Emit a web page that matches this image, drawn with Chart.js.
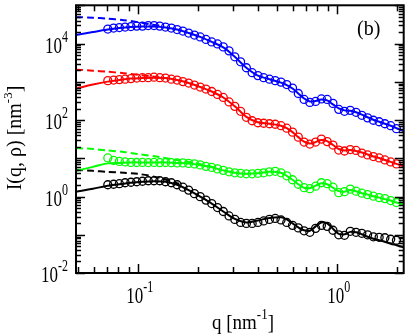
<!DOCTYPE html>
<html>
<head>
<meta charset="utf-8">
<script src="https://cdn.jsdelivr.net/npm/chart.js@4"></script>
<style>
  html, body { margin: 0; padding: 0; background: #fff; }
</style>
</head>
<body>
<canvas id="chart" width="409" height="334"></canvas>
<script>
// measured q values of the data points (nm^-1)
const qData = [0.0708, 0.0757, 0.0809, 0.0865, 0.0925, 0.0989, 0.1057, 0.1130, 0.1208, 0.1291,
  0.1380, 0.1476, 0.1578, 0.1687, 0.1803, 0.1928, 0.2061, 0.2203, 0.2355, 0.2518,
  0.2692, 0.2877, 0.3076, 0.3289, 0.3516, 0.3758, 0.4018, 0.4295, 0.4592, 0.4909,
  0.5248, 0.5610, 0.5998, 0.6412, 0.6855, 0.7328, 0.7834, 0.8375, 0.8954, 0.9572,
  1.0233, 1.0940, 1.1695, 1.2503, 1.3366, 1.4289, 1.5276, 1.6331, 1.7458, 1.8664, 1.9953];

const blueData = [23900, 25400, 26200, 27000, 27800, 28600, 28600, 29500, 29500, 28600,
  27000, 25400, 23200, 21200, 18800, 16700, 14900, 12800, 11000, 9770,
  8170, 6440, 4500, 3330, 2330, 1730, 1450, 1280, 1170, 1070,
  981, 845, 686, 494, 345, 289, 306, 356, 345, 272,
  190, 169, 179, 159, 133, 114, 98.6, 90.2, 80.0, 71.0, 59.3];
const redData = [1070, 1110, 1140, 1170, 1210, 1250, 1280, 1280, 1320, 1280,
  1250, 1170, 1110, 1010, 925, 820, 728, 646, 557, 466,
  389, 297, 228, 169, 118, 95.7, 84.9, 82.4, 80.0, 77.6,
  71.0, 61.1, 48.2, 35.7, 26.5, 23.5, 26.5, 31.7, 27.3, 22.2,
  16.4, 15.5, 16.9, 16.0, 13.7, 12.2, 11.1, 10.2, 9.04, 8.03, 7.13];
const greenData = [10.2, 8.79, 8.28, 8.03, 7.80, 7.75, 7.80, 7.72, 7.78, 7.70,
  7.75, 7.68, 7.57, 7.57, 7.35, 7.13, 6.71, 6.14, 5.78, 5.28,
  4.83, 4.43, 4.17, 4.04, 3.93, 3.93, 4.04, 4.17, 4.43, 4.56,
  4.17, 3.48, 2.74, 2.09, 1.70, 1.60, 1.86, 2.29, 2.16, 1.75,
  1.26, 1.34, 1.56, 1.38, 1.22, 1.12, 1.02, 0.935, 0.881, 0.783, 0.695];
const blackData = [2.03, 2.09, 2.16, 2.29, 2.36, 2.43, 2.51, 2.58, 2.58, 2.58,
  2.43, 2.29, 2.03, 1.75, 1.47, 1.19, 0.993, 0.805, 0.655, 0.515,
  0.406, 0.310, 0.252, 0.210, 0.198, 0.198, 0.210, 0.230, 0.252, 0.267,
  0.244, 0.210, 0.176, 0.151, 0.127, 0.116, 0.147, 0.176, 0.166, 0.131,
  0.0998, 0.0968, 0.123, 0.116, 0.109, 0.0998, 0.0885, 0.0859, 0.0834, 0.0762, 0.0718];

// fitted curves (solid)
const fitQ = [0.049, 0.0596, 0.0708, 0.0809, 0.0925, 0.1057, 0.1208, 0.1380, 0.1578, 0.1803,
  0.2061, 0.2355, 0.2692, 0.3076, 0.3516, 0.4018, 0.4592, 0.5248, 0.5610, 0.5998,
  0.6412, 0.6855, 0.7328, 0.7834, 0.8375, 0.8954, 0.9572, 1.0233, 1.0940, 1.1695,
  1.2503, 1.3366, 1.4289, 1.5276, 1.6331, 1.7458, 1.8664, 1.9953, 2.17];
const blueFit = [16700, 20000, 23200, 25400, 27000, 27800, 27800, 26200, 23200, 18800,
  14900, 11000, 7930, 4500, 2330, 1450, 1170, 953, 820, 665,
  494, 366, 306, 316, 345, 325, 256, 202, 179, 174,
  159, 139, 118, 102, 90.2, 80.0, 71.0, 61.1, 51.1];
const redFit = [665, 845, 1010, 1110, 1210, 1250, 1280, 1250, 1110, 925,
  728, 557, 389, 228, 121, 87.5, 80.0, 71.0, 61.1, 48.2,
  35.7, 27.3, 24.2, 26.5, 29.9, 28.1, 22.2, 17.5, 16.0, 16.4,
  15.5, 14.2, 12.6, 11.1, 10.2, 9.04, 8.03, 7.13, 6.14];
const greenFit = [4.69, 5.96, 7.35, 7.57, 7.80, 7.80, 7.80, 7.80, 7.57, 7.35,
  6.71, 5.78, 4.83, 4.17, 3.93, 4.04, 4.43, 4.17, 3.48, 2.74,
  2.09, 1.70, 1.65, 1.92, 2.22, 2.09, 1.70, 1.38, 1.34, 1.47,
  1.38, 1.22, 1.12, 1.02, 0.935, 0.855, 0.783, 0.695, 0.617];
const blackFit = [1.34, 1.60, 1.92, 2.09, 2.29, 2.43, 2.51, 2.43, 2.03, 1.47,
  0.993, 0.655, 0.406, 0.259, 0.210, 0.237, 0.275, 0.285, 0.252, 0.198,
  0.156, 0.131, 0.127, 0.166, 0.210, 0.198, 0.143, 0.106, 0.103, 0.119,
  0.116, 0.103, 0.0885, 0.0785, 0.0718, 0.0656, 0.0583, 0.0533, 0.0473];

// low-q model curves (dashed)
const dashQ = [0.049, 0.0596, 0.0700, 0.0852, 0.1000, 0.1285, 0.1617, 0.2038, 0.2416];
const blueDash = [49000, 47500, 44800, 40900, 36300, 29000, null, null, null];
const redDash = [2070, 1950, 1840, 1680, 1530, 1300, null, null, null];
const greenDash = [18.5, 17.5, 16.1, 14.6, 12.9, 10.8, 8.8, 7.13, 5.78];
const blackDash = [4.98, 4.69, 4.43, 4.17, 3.93, 3.09, 2.15, null, null];

// tick labels (10^exp)
const xTickValues = [0.1, 1];
const xTickExps = ["-1", "0"];
const yTickValues = [0.01, 1, 100, 10000];
const yTickExps = ["-2", "0", "2", "4"];

const FONT = '"Liberation Serif", "Times New Roman", serif';

function pts(xs, ys) {
  return xs.map(function (x, i) { return { x: x, y: ys[i] }; });
}

function circles(data, color) {
  return {
    data: pts(qData, data), showLine: false, pointStyle: "circle",
    pointRadius: 4, pointBorderWidth: 1.3, pointBorderColor: color,
    pointBackgroundColor: "rgba(0,0,0,0)", borderColor: color
  };
}
function fitLine(data, color) {
  return {
    data: pts(fitQ, data), borderColor: color, borderWidth: 2,
    pointRadius: 0, tension: 0.35, fill: false
  };
}
function dashLine(data, color) {
  return {
    data: pts(dashQ, data), borderColor: color, borderWidth: 2, borderDash: [7, 4],
    pointRadius: 0, tension: 0.3, fill: false, spanGaps: false
  };
}

// draw text stretched vertically like the original figure
function sText(ctx, txt, x, y, size, sy) {
  ctx.save();
  ctx.translate(x, y);
  ctx.scale(1, sy);
  ctx.font = size + "px " + FONT;
  ctx.fillText(txt, 0, 0);
  ctx.restore();
}
function textW(ctx, txt, size) {
  ctx.font = size + "px " + FONT;
  return ctx.measureText(txt).width;
}

const framePlugin = {
  id: "frame",
  afterDraw(chart) {
    const ctx = chart.ctx;
    const a = chart.chartArea;
    const xs = chart.scales.x, ys = chart.scales.y;
    ctx.save();
    ctx.strokeStyle = "#000";
    ctx.fillStyle = "#000";
    ctx.lineWidth = 1.5;
    function seg(x1, y1, x2, y2) {
      ctx.beginPath(); ctx.moveTo(x1, y1); ctx.lineTo(x2, y2); ctx.stroke();
    }
    // x ticks, inside, top and bottom
    for (let e = -2; e <= 0; e++) {
      for (let m = 1; m <= 9; m++) {
        const v = m * Math.pow(10, e);
        if (v < xs.min || v > xs.max) continue;
        const px = Math.round(xs.getPixelForValue(v)) + 0.5;
        const len = m === 1 ? 9 : 6;
        seg(px, a.bottom, px, a.bottom - len);
        seg(px, a.top, px, a.top + len);
      }
    }
    // y ticks, inside, left and right
    for (let e = -2; e <= 5; e++) {
      for (let m = 1; m <= 9; m++) {
        const v = m * Math.pow(10, e);
        if (v < ys.min || v > ys.max) continue;
        const py = Math.round(ys.getPixelForValue(v)) + 0.5;
        const len = m === 1 ? 9 : 5;
        seg(a.left, py, a.left + len, py);
        seg(a.right, py, a.right - len, py);
      }
    }
    ctx.lineWidth = 2;
    ctx.strokeRect(a.left, a.top, a.right - a.left, a.bottom - a.top);

    // tick labels
    const base = 17, sup = 12, sy = 1.35;
    ctx.textAlign = "left";
    ctx.textBaseline = "alphabetic";
    yTickValues.forEach(function (v, i) {
      const py = ys.getPixelForValue(v);
      const w1 = textW(ctx, "10", base), w2 = textW(ctx, yTickExps[i], sup);
      const x0 = 68 - w1 - w2;
      const bl = py + 1.5 + 0.33 * base * sy;
      sText(ctx, "10", x0, bl, base, sy);
      sText(ctx, yTickExps[i], x0 + w1, bl - 0.47 * base * sy, sup, sy);
    });
    xTickValues.forEach(function (v, i) {
      const px = xs.getPixelForValue(v);
      const w1 = textW(ctx, "10", base), w2 = textW(ctx, xTickExps[i], sup);
      const x0 = px + 2 - (w1 + w2) / 2;
      const bl = 303;
      sText(ctx, "10", x0, bl, base, sy);
      sText(ctx, xTickExps[i], x0 + w1, bl - 0.47 * base * sy, sup, sy);
    });

    // axis titles
    const tSize = 19, tSup = 13;
    let parts = ["q [nm", "-1", "]"];
    let w = textW(ctx, parts[0], tSize) + textW(ctx, parts[1], tSup) + textW(ctx, parts[2], tSize);
    let x0 = 243 - w / 2;
    sText(ctx, parts[0], x0, 329, tSize, 1.1);
    x0 += textW(ctx, parts[0], tSize);
    sText(ctx, parts[1], x0, 319, tSup, 1.1);
    x0 += textW(ctx, parts[1], tSup);
    sText(ctx, parts[2], x0, 329, tSize, 1.1);

    ctx.save();
    ctx.translate(21, 138);
    ctx.rotate(-Math.PI / 2);
    parts = ["I(q, \u03c1) [nm", "-3", "]"];
    const ySize = 20, ySup = 13;
    w = textW(ctx, parts[0], ySize) + textW(ctx, parts[1], ySup) + textW(ctx, parts[2], ySize);
    x0 = -w / 2;
    sText(ctx, parts[0], x0, 0, ySize, 1);
    x0 += textW(ctx, parts[0], ySize);
    sText(ctx, parts[1], x0, -9, ySup, 1);
    x0 += textW(ctx, parts[1], ySup);
    sText(ctx, parts[2], x0, 0, ySize, 1);
    ctx.restore();

    // panel label
    sText(ctx, "(b)", 357, 35, 20, 1.0);
    ctx.restore();
  }
};

new Chart(document.getElementById("chart"), {
  type: "line",
  data: {
    datasets: [
      circles(blueData, "#0000ff"), fitLine(blueFit, "#0000ff"), dashLine(blueDash, "#0000ff"),
      circles(redData, "#ff0000"), fitLine(redFit, "#ff0000"), dashLine(redDash, "#ff0000"),
      circles(greenData, "#00ff00"), fitLine(greenFit, "#00ff00"), dashLine(greenDash, "#00ff00"),
      circles(blackData, "#000000"), fitLine(blackFit, "#000000"), dashLine(blackDash, "#000000")
    ]
  },
  options: {
    responsive: false,
    animation: false,
    layout: { padding: { left: 76, right: 2.5, top: 3, bottom: 61 } },
    plugins: { legend: { display: false }, tooltip: { enabled: false } },
    scales: {
      x: { type: "logarithmic", min: 0.049, max: 2.17, display: false },
      y: { type: "logarithmic", min: 0.01, max: 100000, display: false }
    }
  },
  plugins: [framePlugin]
});
</script>
</body>
</html>
